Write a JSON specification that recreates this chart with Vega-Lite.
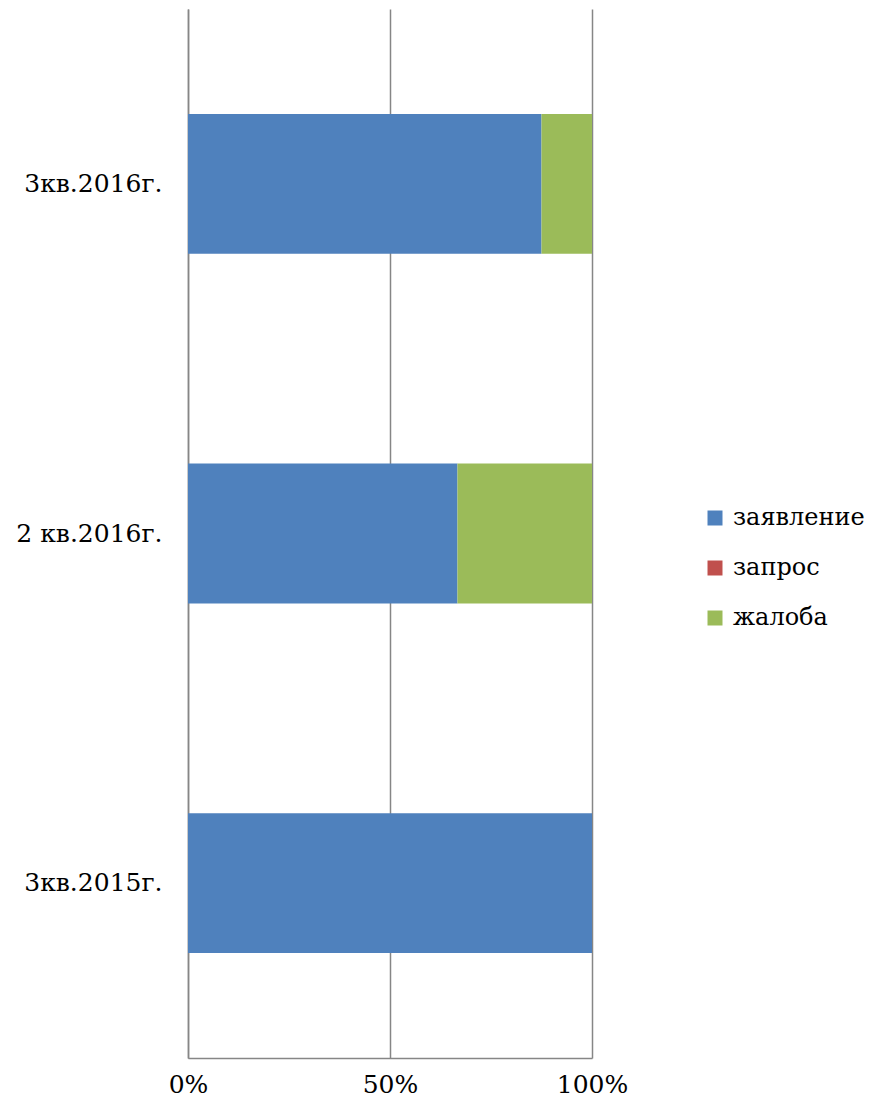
{
  "$schema": "https://vega.github.io/schema/vega-lite/v6.json",
  "autosize": "none",
  "width": 404,
  "height": 1049,
  "padding": {"left": 188, "top": 9, "right": 280, "bottom": 53},
  "background": "white",
  "config": {"view": {"stroke": null}, "font": "DejaVu Serif"},
  "data": {"values": [
    {"period": "3кв.2016г.", "type": "заявление", "value": 87.5},
    {"period": "3кв.2016г.", "type": "запрос", "value": 0},
    {"period": "3кв.2016г.", "type": "жалоба", "value": 12.5},
    {"period": "2 кв.2016г.", "type": "заявление", "value": 66.7},
    {"period": "2 кв.2016г.", "type": "запрос", "value": 0},
    {"period": "2 кв.2016г.", "type": "жалоба", "value": 33.3},
    {"period": "3кв.2015г.", "type": "заявление", "value": 100},
    {"period": "3кв.2015г.", "type": "запрос", "value": 0},
    {"period": "3кв.2015г.", "type": "жалоба", "value": 0}
  ]},
  "mark": {"type": "bar"},
  "encoding": {
    "y": {
      "field": "period", "type": "nominal",
      "sort": ["3кв.2016г.", "2 кв.2016г.", "3кв.2015г."],
      "scale": {"paddingInner": 0.6, "paddingOuter": 0.3},
      "axis": {"title": null, "ticks": false, "domainColor": "#868686", "domainWidth": 1.5,
               "labelFont": "DejaVu Serif", "labelFontSize": 25, "labelColor": "#000000",
               "labelPadding": 26, "labelLimit": 300}
    },
    "x": {
      "field": "value", "type": "quantitative", "stack": "normalize",
      "scale": {"domain": [0, 1]},
      "axis": {"title": null, "values": [0, 0.5, 1], "format": ".0%", "ticks": false,
               "grid": true, "gridColor": "#868686", "gridWidth": 1.5,
               "domainColor": "#868686", "domainWidth": 1.5,
               "labelFont": "DejaVu Serif", "labelFontSize": 25, "labelColor": "#000000",
               "labelPadding": 14, "labelFlush": false}
    },
    "color": {
      "field": "type", "type": "nominal",
      "sort": ["заявление", "запрос", "жалоба"],
      "scale": {"domain": ["заявление", "запрос", "жалоба"], "range": ["#4F81BD", "#C0504D", "#9BBB59"]},
      "legend": {"title": null, "orient": "none", "legendX": 515, "legendY": 497,
                 "symbolType": "square", "symbolSize": 225, "symbolStrokeWidth": 0,
                 "labelFont": "DejaVu Serif", "labelFontSize": 24, "labelColor": "#000000",
                 "rowPadding": 26, "labelOffset": 6, "labelLimit": 300}
    },
    "order": {"field": "type", "sort": "descending"}
  }
}
